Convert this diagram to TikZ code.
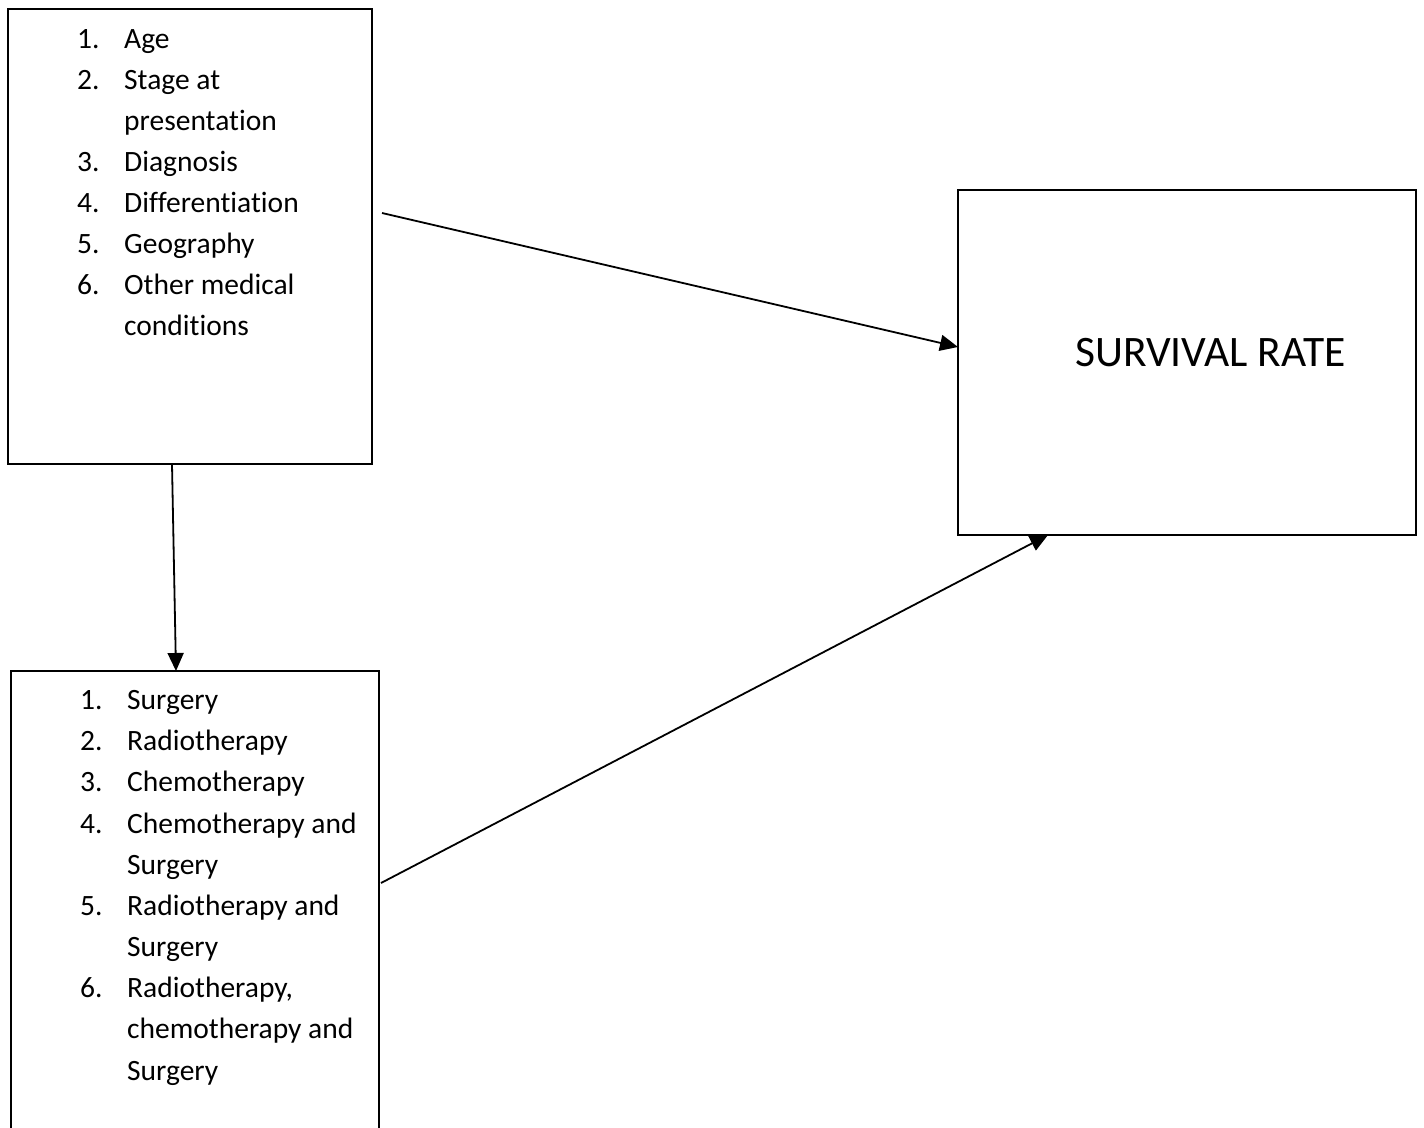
\documentclass[tikz,border=0pt]{standalone}
\usepackage{fontspec}
\setmainfont[Ligatures=NoCommon]{Carlito}
\usetikzlibrary{arrows.meta}
\begin{document}
\begin{tikzpicture}[x=1pt,y=-1pt,
  box/.style={draw,line width=2pt,inner sep=0pt,outer sep=0pt},
  item/.style={anchor=base west,inner sep=0pt,font=\fontsize{29.5}{35}\selectfont},
  conn/.style={line width=1.8pt,-{Triangle[length=18pt,width=16pt]}}]
\useasboundingbox (0,0) rectangle (1424,1127);
\clip (0,0) rectangle (1424,1127);
% boxes
\node[box,minimum width=364pt,minimum height=455pt] (A) at (190,236.5) {};
\node[box,minimum width=368pt,minimum height=480pt] (B) at (195,911) {};
\node[box,minimum width=458pt,minimum height=345pt] (C) at (1187,362.5) {};
% box A items
\node[item] (a1n) at (77,48) {1.};  \node[item] (a1) at (124,48) {Age};
\node[item] (a2n) at (77,89) {2.};  \node[item] (a2) at (124,89) {Stage at};
\node[item] (a2b) at (124,130) {presentation};
\node[item] (a3n) at (77,171) {3.}; \node[item] (a3) at (124,171) {Diagnosis};
\node[item] (a4n) at (77,212) {4.}; \node[item] (a4) at (124,212) {Differentiation};
\node[item] (a5n) at (77,253) {5.}; \node[item] (a5) at (124,253) {Geography};
\node[item] (a6n) at (77,294) {6.}; \node[item] (a6) at (124,294) {Other medical};
\node[item] (a6b) at (124,335) {conditions};
% box B items
\node[item] (b1n) at (80,709) {1.};  \node[item] (b1) at (127,709) {Surgery};
\node[item] (b2n) at (80,750) {2.};  \node[item] (b2) at (127,750) {Radiotherapy};
\node[item] (b3n) at (80,791) {3.};  \node[item] (b3) at (127,791) {Chemotherapy};
\node[item] (b4n) at (80,833) {4.};  \node[item] (b4) at (127,833) {Chemotherapy and};
\node[item] (b4b) at (127,874) {Surgery};
\node[item] (b5n) at (80,915) {5.};  \node[item] (b5) at (127,915) {Radiotherapy and};
\node[item] (b5b) at (127,956) {Surgery};
\node[item] (b6n) at (80,997) {6.};  \node[item] (b6) at (127,997) {Radiotherapy,};
\node[item] (b6b) at (127,1038) {chemotherapy and};
\node[item] (b6c) at (127,1080) {Surgery};
% box C text
\node[anchor=base west,inner sep=0pt,font=\fontsize{43.5}{50}\selectfont] (ct) at (1075,366) {SURVIVAL RATE};
% connector end points
\coordinate (s1) at (382,213);
\coordinate (e1) at (958,347);
\coordinate (s2) at (172,464);
\coordinate (e2) at (176,671);
\coordinate (s3) at (381,883);
\coordinate (e3) at (1048,535);
\draw[conn] (s1) -- (e1);
\draw[conn] (s2) -- (e2);
\draw[conn] (s3) -- (e3);
\end{tikzpicture}
\end{document}
